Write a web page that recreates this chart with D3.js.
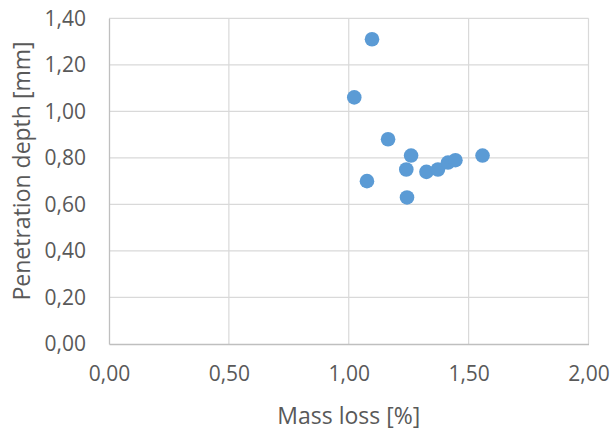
<!DOCTYPE html>
<html><head><meta charset="utf-8">
<script src="https://cdn.jsdelivr.net/npm/d3@7"></script>
<style>body{margin:0;background:#fff}svg{display:block}</style>
</head><body>
<svg id="chart" width="613" height="430"></svg>
<script>
const massLoss = [1.097, 1.023, 1.164, 1.26, 1.24, 1.076, 1.243, 1.324, 1.372, 1.414, 1.445, 1.558];
const penetration = [1.31, 1.06, 0.88, 0.81, 0.75, 0.70, 0.63, 0.74, 0.75, 0.78, 0.79, 0.81];
const xTicks = [0, 0.5, 1.0, 1.5, 2.0];
const yTicks = [0, 0.2, 0.4, 0.6, 0.8, 1.0, 1.2, 1.4];
const xTitle = "Mass loss [%]";
const yTitle = "Penetration depth [mm]";

const svg = d3.select("#chart");
const L = 109, R = 588.5, T = 18.3, B = 344;
const x = d3.scaleLinear().domain([0, 2]).range([L, R]);
const y = d3.scaleLinear().domain([0, 1.4]).range([B, T]);
const fmt = v => d3.format(".2f")(v).replace(".", ",");
const font = "'Open Sans', sans-serif";

// gridlines
svg.append("g").selectAll("line").data(yTicks.filter(d => d > 0)).join("line")
  .attr("x1", L).attr("x2", R).attr("y1", d => y(d)).attr("y2", d => y(d))
  .attr("stroke", "#D9D9D9").attr("stroke-width", 1.2);
svg.append("g").selectAll("line").data(xTicks.filter(d => d > 0)).join("line")
  .attr("y1", T).attr("y2", B).attr("x1", d => x(d)).attr("x2", d => x(d))
  .attr("stroke", "#D9D9D9").attr("stroke-width", 1.2);

// axes
const xAxis = svg.append("g").attr("transform", `translate(0,${B})`)
  .call(d3.axisBottom(x).tickValues(xTicks).tickFormat(fmt).tickSize(0).tickPadding(22));
const yAxis = svg.append("g").attr("transform", `translate(${L},0)`)
  .call(d3.axisLeft(y).tickValues(yTicks).tickFormat(fmt).tickSize(0).tickPadding(23));
[xAxis, yAxis].forEach(a => {
  a.select(".domain").attr("stroke", "#BFBFBF").attr("stroke-width", 1.3);
  a.selectAll("text").attr("fill", "#595959").style("font-family", font).style("font-size", "21px");
});

// points
svg.append("g").selectAll("circle").data(massLoss.map((m, i) => [m, penetration[i]])).join("circle")
  .attr("cx", d => x(d[0])).attr("cy", d => y(d[1])).attr("r", 7.3)
  .attr("fill", "#5B9BD5");

// titles
svg.append("text").attr("x", (L + R) / 2).attr("y", 424).attr("text-anchor", "middle")
  .attr("fill", "#595959").style("font-family", font).style("font-size", "23px").text(xTitle);
svg.append("text").attr("transform", `translate(30,171) rotate(-90)`).attr("text-anchor", "middle")
  .attr("fill", "#595959").style("font-family", font).style("font-size", "23px").text(yTitle);
</script>
</body></html>
